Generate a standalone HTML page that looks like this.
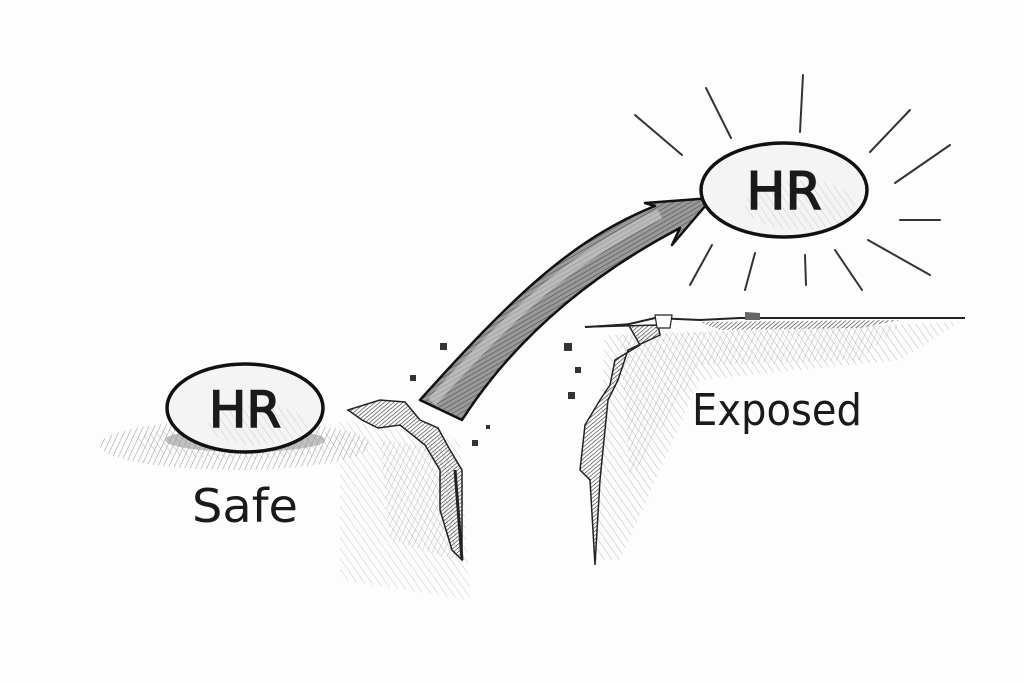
<!DOCTYPE html>
<html><head><meta charset="utf-8"><style>
html,body{margin:0;padding:0;background:#fdfdfd;}
svg{display:block}
text{font-family:"DejaVu Sans","Liberation Sans",sans-serif;fill:#1a1a1a}
</style></head><body>
<svg width="1024" height="683" viewBox="0 0 1024 683" xmlns="http://www.w3.org/2000/svg">
<defs>
<pattern id="h1" width="5" height="5" patternUnits="userSpaceOnUse" patternTransform="rotate(25)"><line x1="0" y1="0" x2="0" y2="5" stroke="#888" stroke-width="0.9"/></pattern>
<pattern id="h2" width="6" height="6" patternUnits="userSpaceOnUse" patternTransform="rotate(-35)"><line x1="0" y1="0" x2="0" y2="6" stroke="#aaa" stroke-width="0.8"/></pattern>
<pattern id="h3" width="3" height="3" patternUnits="userSpaceOnUse" patternTransform="rotate(50)"><line x1="0" y1="0" x2="0" y2="3" stroke="#333" stroke-width="1.2"/></pattern>
<pattern id="h4" width="4" height="4" patternUnits="userSpaceOnUse" patternTransform="rotate(60)"><rect width="4" height="4" fill="#999"/><line x1="0" y1="0" x2="0" y2="4" stroke="#444" stroke-width="1"/></pattern>
</defs>
<rect width="1024" height="683" fill="#fdfdfd"/>

<!-- left shadow -->
<ellipse cx="235" cy="445" rx="135" ry="25" fill="url(#h1)"/>
<ellipse cx="240" cy="442" rx="105" ry="17" fill="url(#h2)"/>
<ellipse cx="245" cy="440" rx="80" ry="12" fill="#999" opacity="0.6"/>
<!-- left ground hatch -->
<path d="M340 420 L460 440 L470 600 L340 580 Z" fill="url(#h2)" opacity="0.8"/>
<path d="M380 440 L450 450 L455 560 L390 540 Z" fill="url(#h1)" opacity="0.6"/>

<!-- left crack -->
<path d="M348 410 L380 400 L405 402 L420 420 L438 428 L450 450 L462 470 L462 560 L452 550 L440 510 L440 470 L425 445 L400 425 L378 428 L362 420 Z" fill="url(#h3)" stroke="#222" stroke-width="1.5"/>
<path d="M455 470 L462 560" stroke="#222" stroke-width="3"/>
<rect x="410" y="375" width="6" height="6" fill="#333"/>
<rect x="440" y="343" width="7" height="7" fill="#333"/>
<rect x="472" y="440" width="6" height="6" fill="#333"/>
<rect x="486" y="425" width="4" height="4" fill="#333"/>

<!-- right ground hatch -->
<path d="M605 335 L960 322 L900 360 L700 380 L620 560 L595 560 Z" fill="url(#h2)"/>
<path d="M620 335 L900 325 L860 360 L700 365 L630 480 Z" fill="url(#h1)" opacity="0.6"/>
<!-- right cliff -->
<path d="M585 327 L625 325 L655 318 L700 320 L740 318 L965 318" fill="none" stroke="#222" stroke-width="2"/>
<path d="M700 322 L900 320 L860 328 L720 330 Z" fill="url(#h3)"/>
<path d="M585 327 L628 324 L640 345 L615 360 L610 385 L600 400 L585 425 L580 470 L590 480 L595 565 L600 480 L605 430 L608 400 L618 380 L628 350 L660 335 L658 325 Z" fill="url(#h3)" stroke="#222" stroke-width="1.5"/>
<path d="M655 315 L672 315 L670 328 L657 328 Z" fill="#fff" stroke="#222" stroke-width="1.2"/>
<path d="M745 312 L760 313 L760 320 L745 320 Z" fill="#666"/>
<rect x="564" y="343" width="8" height="8" fill="#333"/>
<rect x="575" y="367" width="6" height="6" fill="#333"/>
<rect x="568" y="392" width="7" height="7" fill="#333"/>

<!-- arrow -->
<path d="M420 400 C 510 300, 570 240, 655 206 L645 203 L712 198 L672 245 L680 228 C 600 270, 520 330, 462 420 Z" fill="url(#h4)" stroke="#111" stroke-width="2.5" stroke-linejoin="round"/>
<path d="M432 402 C 510 315, 570 258, 660 214" fill="none" stroke="#ddd" stroke-width="10" opacity="0.5"/>

<!-- rays -->
<g stroke="#333" stroke-width="2" stroke-linecap="round">
<line x1="635" y1="115" x2="682" y2="155"/>
<line x1="706" y1="88" x2="731" y2="138"/>
<line x1="803" y1="75" x2="800" y2="132"/>
<line x1="910" y1="110" x2="870" y2="152"/>
<line x1="950" y1="145" x2="895" y2="183"/>
<line x1="900" y1="220" x2="940" y2="220"/>
<line x1="868" y1="240" x2="930" y2="275"/>
<line x1="835" y1="250" x2="862" y2="290"/>
<line x1="805" y1="255" x2="806" y2="285"/>
<line x1="755" y1="253" x2="745" y2="290"/>
<line x1="712" y1="245" x2="690" y2="285"/>
</g>

<!-- ellipses -->
<ellipse cx="784" cy="190" rx="83" ry="47" fill="#f4f4f4" stroke="#111" stroke-width="3.5"/>
<ellipse cx="800" cy="205" rx="55" ry="25" fill="url(#h2)" opacity="0.7"/>
<text x="784" y="209" font-size="52" text-anchor="middle" font-family="Liberation Sans" stroke="#1a1a1a" stroke-width="1.5">HR</text>

<ellipse cx="245" cy="408" rx="78" ry="44" fill="#f4f4f4" stroke="#111" stroke-width="3.5"/>
<ellipse cx="258" cy="425" rx="50" ry="20" fill="url(#h2)" opacity="0.7"/>
<text x="245" y="427" font-size="50" text-anchor="middle" font-family="Liberation Sans" stroke="#1a1a1a" stroke-width="1.5">HR</text>

<text x="192" y="522" font-size="46" textLength="106" lengthAdjust="spacingAndGlyphs">Safe</text>
<text x="692" y="425" font-size="44" textLength="170" lengthAdjust="spacingAndGlyphs">Exposed</text>
</svg>
</body></html>
